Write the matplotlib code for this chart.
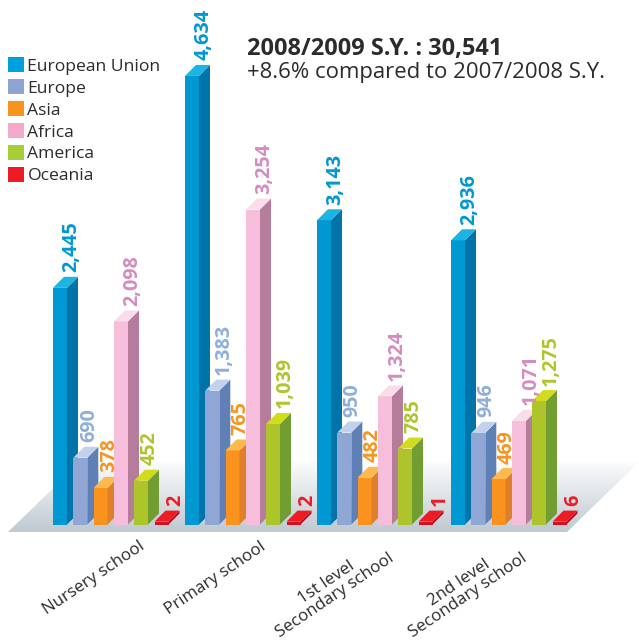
import numpy as np
import matplotlib
matplotlib.use("Agg")
import matplotlib.pyplot as plt
from matplotlib.patches import Polygon, Patch

plt.rcParams['font.family'] = ['Open Sans', 'DejaVu Sans']

# ---- data ----
categories = ["Nursery school", "Primary school", "1st level\nSecondary school", "2nd level\nSecondary school"]
series_names = ["European Union", "Europe", "Asia", "Africa", "America", "Oceania"]
european_union = [2445, 4634, 3143, 2936]
europe = [690, 1383, 950, 946]
asia = [378, 765, 482, 469]
africa = [2098, 3254, 1324, 1071]
america = [452, 1039, 785, 1275]
oceania = [2, 2, 1, 6]
title_main = "2008/2009 S.Y. : 30,541"
title_sub = "+8.6% compared to 2007/2008 S.Y."

# ---- style ----
all_series = [european_union, europe, asia, africa, america, oceania]
front = ['#0098D2', '#90A6D4', '#F9931E', '#F6BEDB', '#ADC42B', '#D3121E']
side = ['#0073A8', '#5F80B5', '#DF7F2A', '#B57C9B', '#729D30', '#B01019']
top = ['#1BB5E3', '#C3D1EC', '#FDB94D', '#FBDCEB', '#D2DC1C', '#ED1C24']
label_col = ['#0097D3', '#8FAEDC', '#F7941D', '#D58BBF', '#AEC62C', '#ED1C24']
legend_col = ['#00A0E0', '#8FA4D2', '#F7941D', '#F4A8CC', '#A6CE39', '#ED1C24']
text_col = '#2B2A2C'

PX = 0.0968          # pixels per unit
BASE = 524.5         # baseline pixel row
W, H = 639, 642
D = 11               # depth in pixels
BW = 14
MIN_H = 30           # smallest drawn height (units), as in the original artwork

def row(py):
    return (BASE - py) / PX

group_left = [53, 185, 317, 451]
bar_off = [0, 20.3, 40.5, 61, 81, 101.5]

fig = plt.figure(figsize=(W / 100, H / 100), dpi=100)
ax = fig.add_axes([0, 0, 1, 1])
ax.set_xlim(0, W)
ax.set_ylim(row(H), row(0))
ax.axis('off')

# floor with gradient
floor_xy = [(8, row(532)), (567, row(532)), (639, row(462)), (80, row(462))]
grad = np.linspace(0, 1, 256).reshape(-1, 1)
c0 = np.array([0xBE, 0xC9, 0xD0]) / 255
c1 = np.array([1.0, 1.0, 1.0])
img = (c0[None, None, :] * (1 - grad[:, :, None]) + c1[None, None, :] * grad[:, :, None])
im = ax.imshow(img, extent=(0, W, row(532), row(458)), origin='lower', aspect='auto', zorder=0)
clip = Polygon(floor_xy, closed=True, transform=ax.transData, fc='none', ec='none')
ax.add_patch(clip)
im.set_clip_path(clip)
ax.set_xlim(0, W)
ax.set_ylim(row(H), row(0))

dy = D / PX
z = 2
for g, gx in enumerate(group_left):
    for s, vals in enumerate(all_series):
        v = vals[g]
        h = max(v, MIN_H)
        x = gx + bar_off[s]
        ax.bar(x, h, width=BW, align='edge', color=front[s], linewidth=0, zorder=z)
        ax.fill([x + BW, x + BW + D, x + BW + D, x + BW], [0, dy, h + dy, h], color=side[s], linewidth=0, zorder=z)
        ax.fill([x, x + BW, x + BW + D, x + D], [h, h, h + dy, h + dy], color=top[s], linewidth=0, zorder=z)
        z += 1
        off = 18.5 if v >= 1000 else (21 if v < 10 else 15.5)
        ax.text(x + off, h + dy + 4.5 / PX, f"{v:,}", rotation=90, ha='center', va='bottom',
                color=label_col[s], fontsize=14.2, fontweight='bold', zorder=50)

# category labels
cat_x = [94, 215, 331, 464]
cat_y = [578, 578, 589, 589]
for cx, cy, c in zip(cat_x, cat_y, categories):
    ax.text(cx, row(cy), c, rotation=34, ha='center', va='center', multialignment='center',
            rotation_mode='anchor', fontsize=12.2, color=text_col, linespacing=1.0)

# headline
ax.text(247, row(55), title_main, fontsize=16.9, fontweight='bold', color=text_col, va='baseline')
ax.text(247, row(78), title_sub, fontsize=15.9, color=text_col, va='baseline')

# legend
handles = [Patch(facecolor=c, edgecolor='none', label=n) for c, n in zip(legend_col, series_names)]
ax.legend(handles=handles, loc='upper left', bbox_to_anchor=(8 / W, 1 - 57.5 / H), borderaxespad=0,
          borderpad=0, frameon=False, fontsize=12.6, handlelength=0.91, handleheight=0.91,
          handletextpad=0.2, labelspacing=0.26, labelcolor=text_col)

fig.savefig("out.png", dpi=100)
